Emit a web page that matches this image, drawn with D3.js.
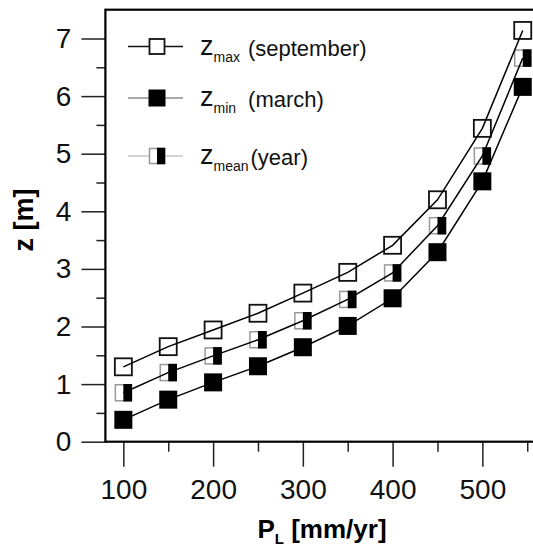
<!DOCTYPE html>
<html lang="en">
<head>
  <meta charset="UTF-8">
  <title>z vs P_L</title>
  <script src="https://d3js.org/d3.v7.min.js"></script>
  <style>
    body { margin: 0; background: #fff; }
    svg { display: block; font-family: "Liberation Sans", Arial, sans-serif; }
  </style>
</head>
<body>
<script>
  // Data
  const pl = [100, 150, 200, 250, 300, 350, 400, 450, 500, 545];
  const zMax = [1.30, 1.65, 1.94, 2.23, 2.58, 2.94, 3.41, 4.20, 5.44, 7.14];
  const zMin = [0.38, 0.73, 1.03, 1.31, 1.64, 2.01, 2.49, 3.29, 4.52, 6.16];
  const zMean = [0.85, 1.20, 1.49, 1.77, 2.10, 2.47, 2.93, 3.75, 4.96, 6.66];
  const xTicks = [100, 200, 300, 400, 500];
  const xMinor = [150, 250, 350, 450, 550];
  const yTicks = [0, 1, 2, 3, 4, 5, 6, 7];
  const yMinor = [0.5, 1.5, 2.5, 3.5, 4.5, 5.5, 6.5];

  const width = 533, height = 548;
  const svg = d3.select("body").append("svg")
    .attr("width", width)
    .attr("height", height);

  const x = d3.scaleLinear().domain([80, 560]).range([105.4, 536.2]);
  const y = d3.scaleLinear().domain([0, 7.5]).range([441.7, 9.7]);

  // y axis: major + minor ticks
  svg.append("g")
    .attr("transform", `translate(${x(80)},0)`)
    .call(d3.axisLeft(y).tickValues(yTicks).tickSize(24).tickPadding(10).tickFormat(d3.format("d")));
  svg.append("g")
    .attr("transform", `translate(${x(80)},0)`)
    .call(d3.axisLeft(y).tickValues(yMinor).tickSize(9).tickFormat(""));

  // x axis
  svg.append("g")
    .attr("transform", `translate(0,${y(0)})`)
    .call(d3.axisBottom(x).tickValues(xTicks).tickSize(25).tickPadding(12).tickFormat(d3.format("d")));
  svg.append("g")
    .attr("transform", `translate(0,${y(0)})`)
    .call(d3.axisBottom(x).tickValues(xMinor).tickSize(10).tickFormat(""));

  svg.selectAll(".domain").remove();
  svg.selectAll(".tick line").attr("stroke", "#222").attr("stroke-width", 1.5);
  svg.selectAll(".tick text")
    .attr("fill", "#111")
    .style("font-size", "28px");

  // frame (right side falls outside the picture)
  svg.append("rect")
    .attr("x", x(80))
    .attr("y", y(7.5))
    .attr("width", 600)
    .attr("height", y(0) - y(7.5))
    .attr("fill", "none")
    .attr("stroke", "#000")
    .attr("stroke-width", 2.2);

  // axis titles
  const xl = svg.append("text")
    .attr("x", 322)
    .attr("y", 538)
    .attr("text-anchor", "middle")
    .style("font-size", "26px")
    .style("font-weight", "bold");
  xl.append("tspan").text("P");
  xl.append("tspan").attr("dy", 6).style("font-size", "15px").text("L");
  xl.append("tspan").attr("dy", -6).text(" [mm/yr]");

  svg.append("text")
    .attr("transform", "translate(33,220) rotate(-90)")
    .attr("text-anchor", "middle")
    .style("font-size", "27px")
    .style("font-weight", "bold")
    .text("z [m]");

  // markers
  function hollow(g, cx, cy, s) {
    g.append("rect")
      .attr("x", cx - s / 2).attr("y", cy - s / 2)
      .attr("width", s).attr("height", s)
      .attr("fill", "#fff").attr("stroke", "#111").attr("stroke-width", 1.8);
  }
  function filled(g, cx, cy, s) {
    g.append("rect")
      .attr("x", cx - s / 2).attr("y", cy - s / 2)
      .attr("width", s).attr("height", s)
      .attr("fill", "#000");
  }
  function half(g, cx, cy, s) {
    g.append("rect")
      .attr("x", cx - s / 2).attr("y", cy - s / 2)
      .attr("width", s).attr("height", s)
      .attr("fill", "#fff").attr("stroke", "#999").attr("stroke-width", 1.5);
    g.append("rect")
      .attr("x", cx).attr("y", cy - s / 2 - 0.75)
      .attr("width", s / 2 + 0.75).attr("height", s + 1.5)
      .attr("fill", "#000");
  }

  const series = [
    {values: zMax, draw: hollow, size: 17},
    {values: zMin, draw: filled, size: 18},
    {values: zMean, draw: half, size: 16}
  ];

  const line = d3.line().x(d => x(d[0])).y(d => y(d[1]));

  series.forEach(s => {
    const g = svg.append("g");
    pl.forEach((p, i) => s.draw(g, x(p), y(s.values[i]), s.size));
  });
  series.forEach(s => {
    svg.append("path")
      .datum(pl.map((p, i) => [p, s.values[i]]))
      .attr("fill", "none")
      .attr("stroke", "#000")
      .attr("stroke-width", 1.5)
      .attr("d", line);
  });

  // legend
  const legend = [
    {sub: "max", label: "(september)", draw: hollow, size: 15, color: "#111", lw: 1.5, y: 46.5, gap: 8},
    {sub: "min", label: "(march)", draw: filled, size: 17, color: "#555", lw: 1, y: 98, gap: 12},
    {sub: "mean", label: "(year)", draw: half, size: 15, color: "#aaa", lw: 1, y: 156, gap: 2}
  ];
  legend.forEach(l => {
    svg.append("line")
      .attr("x1", 128).attr("x2", 183)
      .attr("y1", l.y).attr("y2", l.y)
      .attr("stroke", l.color).attr("stroke-width", l.lw);
    l.draw(svg.append("g"), 157, l.y, l.size);
    const t = svg.append("text")
      .attr("x", 200)
      .attr("y", l.y + 8)
      .style("font-size", "27px")
      .attr("fill", "#111");
    t.append("tspan").text("z");
    t.append("tspan").attr("dy", 7).style("font-size", "14px").text(l.sub);
    t.append("tspan")
      .attr("dy", -6).attr("dx", l.gap)
      .style("font-size", "22px")
      .text(l.label);
  });
</script>
</body>
</html>
